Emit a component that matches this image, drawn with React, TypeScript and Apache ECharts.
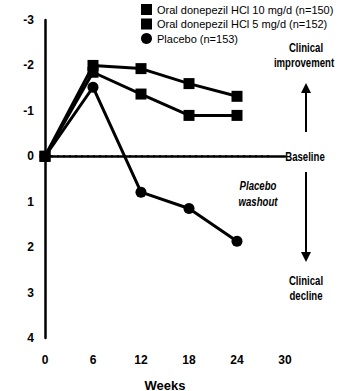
import React, { useEffect, useRef } from "react";
import * as echarts from "echarts";

const weeks = [0, 6, 12, 18, 24];
const dose10 = [0, -2.0, -1.93, -1.6, -1.32];
const dose5 = [0, -1.85, -1.37, -0.9, -0.9];
const placebo = [0, -1.52, 0.79, 1.15, 1.87];
const seriesNames = [
  "Oral donepezil HCl 10 mg/d (n=150)",
  "Oral donepezil HCl 5 mg/d (n=152)",
  "Placebo (n=153)",
];
const xTicks = [0, 6, 12, 18, 24, 30];
const yTicks = [-3, -2, -1, 0, 1, 2, 3, 4];
const baselineEnd = 28.4;

const FONT = "'Liberation Sans', Arial, sans-serif";

export default function App() {
  const ref = useRef<HTMLDivElement>(null);
  useEffect(() => {
    if (!ref.current) return;
    const chart = echarts.init(ref.current, null, { renderer: "svg" });
    const mk = (name: string, vals: number[], symbol: string, size: number) => ({
      name,
      type: "line",
      data: weeks.map((w, i) => [w, vals[i]]),
      symbol,
      symbolSize: size,
      itemStyle: { color: "#000" },
      lineStyle: { color: "#000", width: 3 },
      z: 5,
    });
    const label = (text: string, x: number, y: number, italic = false) => ({
      type: "text",
      x,
      y,
      scaleX: 0.8,
      style: {
        text,
        font: `${italic ? "italic " : ""}bold 12px ${FONT}`,
        fill: "#000",
        align: "center",
        verticalAlign: "middle",
      },
    });
    chart.setOption({
      animation: false,
      backgroundColor: "#fff",
      grid: { left: 45, right: 53, top: 20, bottom: 53, containLabel: false, outerBoundsMode: "none" },
      legend: {
        orient: "vertical",
        left: 136,
        top: -1,
        itemWidth: 11,
        itemHeight: 11,
        itemGap: 3.5,
        textStyle: { fontFamily: FONT, fontSize: 11, color: "#000" },
        data: [
          { name: seriesNames[0], icon: "rect" },
          { name: seriesNames[1], icon: "rect" },
          { name: seriesNames[2], icon: "circle" },
        ],
      },
      xAxis: {
        type: "value",
        min: xTicks[0],
        max: xTicks[xTicks.length - 1],
        interval: 6,
        name: "Weeks",
        nameLocation: "middle",
        nameGap: 41,
        nameTextStyle: { fontFamily: FONT, fontSize: 13, fontWeight: "bold", color: "#000" },
        axisLine: { lineStyle: { color: "#000", width: 2.5 } },
        axisTick: { show: false },
        splitLine: { show: false },
        axisLabel: { margin: 16, fontFamily: FONT, fontSize: 12, fontWeight: "bold", color: "#000" },
      },
      yAxis: {
        type: "value",
        inverse: true,
        min: yTicks[0],
        max: yTicks[yTicks.length - 1],
        interval: 1,
        axisLine: { show: true, lineStyle: { color: "#000", width: 2.5 } },
        axisTick: { show: false },
        splitLine: { show: false },
        axisLabel: { margin: 11, fontFamily: FONT, fontSize: 12, fontWeight: "bold", color: "#000" },
      },
      series: [
        {
          name: "baseline",
          type: "line",
          data: [[0, 0], [baselineEnd, 0]],
          symbol: "none",
          silent: true,
          lineStyle: { color: "#000", width: 2, type: [2, 4] },
          z: 1,
        },
        mk(seriesNames[2], placebo, "circle", 11),
        mk(seriesNames[1], dose5, "rect", 11),
        mk(seriesNames[0], dose10, "rect", 11),
      ],
      graphic: [
        label("Clinical", 306, 48),
        label("improvement", 304, 63),
        { type: "line", shape: { x1: 306, y1: 132, x2: 306, y2: 90 }, style: { stroke: "#000", lineWidth: 2 } },
        { type: "polygon", shape: { points: [[306, 83], [301, 93], [311, 93]] }, style: { fill: "#000" } },
        label("Baseline", 305, 157),
        { type: "line", shape: { x1: 306, y1: 172, x2: 306, y2: 255 }, style: { stroke: "#000", lineWidth: 2 } },
        { type: "polygon", shape: { points: [[306, 262], [301, 252], [311, 252]] }, style: { fill: "#000" } },
        label("Clinical", 306, 281),
        label("decline", 306, 296),
        label("Placebo", 258, 186, true),
        label("washout", 258, 202, true),
      ],
    });
    return () => chart.dispose();
  }, []);
  return <div ref={ref} style={{ width: 338, height: 391, position: "absolute", left: 0, top: 0 }} />;
}
